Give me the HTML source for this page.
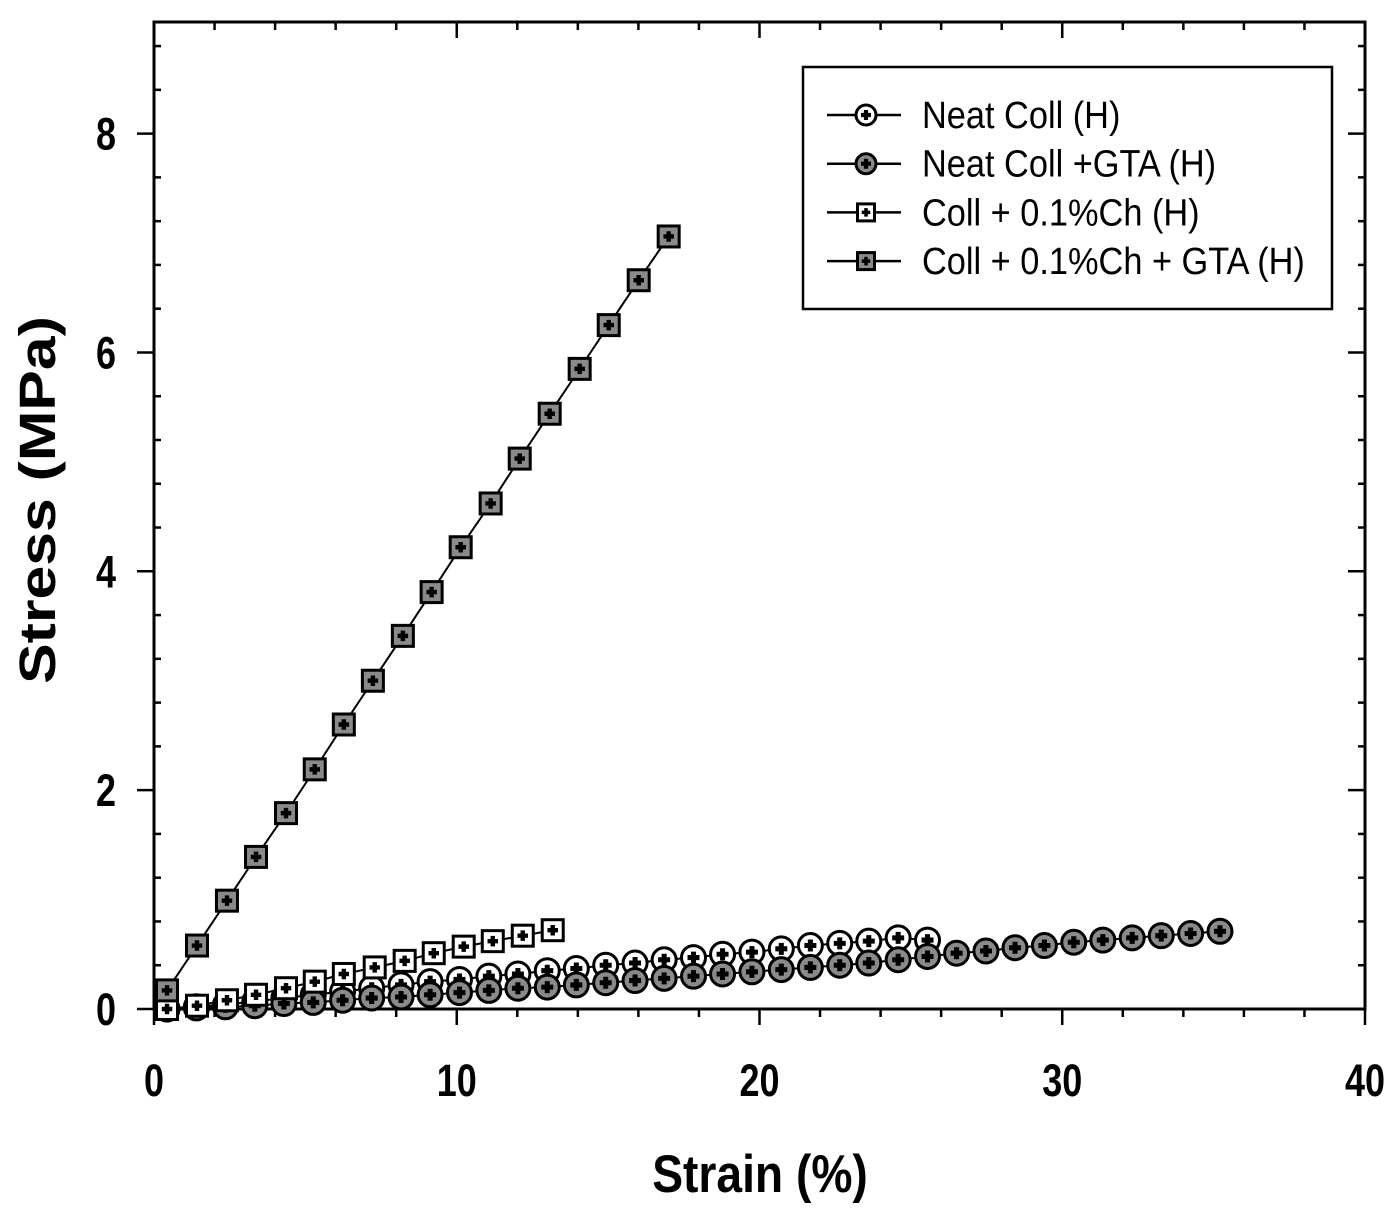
<!DOCTYPE html>
<html><head><meta charset="utf-8"><style>
body{margin:0;background:#fff}
svg{display:block;font-family:"Liberation Sans",Arial,sans-serif}
</style></head><body>
<svg id="chart" width="1397" height="1219" viewBox="0 0 1397 1219"></svg>
<script>
const xTicks=[0,10,20,30,40];
const yTicks=[0,2,4,6,8];
const neatX=[0.43,1.40,2.36,3.33,4.29,5.26,6.23,7.19,8.16,9.12,10.09,11.06,12.02,12.99,13.95,14.92,15.89,16.85,17.82,18.78,19.75,20.72,21.68,22.65,23.61,24.58,25.55];
const neatY=[0,0.02,0.04,0.07,0.10,0.13,0.16,0.19,0.22,0.25,0.27,0.30,0.32,0.35,0.37,0.40,0.42,0.45,0.47,0.50,0.52,0.55,0.58,0.60,0.62,0.65,0.63];
const gtaX=[0.43,1.40,2.36,3.33,4.29,5.26,6.23,7.19,8.16,9.12,10.09,11.06,12.02,12.99,13.95,14.92,15.89,16.85,17.82,18.78,19.75,20.72,21.68,22.65,23.61,24.58,25.55,26.51,27.48,28.44,29.41,30.38,31.34,32.31,33.27,34.24,35.21];
const gtaY=[0,0.01,0.02,0.03,0.05,0.06,0.08,0.10,0.11,0.13,0.15,0.17,0.19,0.20,0.22,0.24,0.26,0.28,0.30,0.32,0.34,0.36,0.38,0.40,0.42,0.45,0.48,0.51,0.53,0.56,0.58,0.61,0.63,0.65,0.67,0.69,0.71];
const chX=[0.43,1.42,2.41,3.37,4.36,5.31,6.27,7.29,8.28,9.24,10.23,11.19,12.18,13.17];
const chY=[0,0.03,0.08,0.13,0.19,0.25,0.32,0.38,0.44,0.51,0.57,0.62,0.67,0.72];
const chGtaX=[0.43,1.42,2.41,3.37,4.36,5.31,6.27,7.23,8.22,9.17,10.13,11.12,12.08,13.07,14.06,15.02,16.01,17.0];
const chGtaY=[0.17,0.58,0.99,1.39,1.79,2.19,2.60,3.00,3.41,3.81,4.22,4.62,5.03,5.44,5.85,6.25,6.66,7.06];
const legendLabels=["Neat Coll (H)","Neat Coll +GTA (H)","Coll + 0.1%Ch (H)","Coll + 0.1%Ch + GTA (H)"];

const L=154,R=1365,T=22,B=1009,XMAX=40,YMAX=9.02;
const sx=v=>L+v/XMAX*(R-L);
const sy=v=>B-v/YMAX*(B-T);
const svg=document.getElementById('chart');
const NS='http://www.w3.org/2000/svg';
function mk(tag,attrs,parent){const e=document.createElementNS(NS,tag);for(const k in attrs)e.setAttribute(k,attrs[k]);(parent||svg).appendChild(e);return e;}

const frame=mk('rect',{x:L,y:T,width:R-L,height:B-T,fill:'none',stroke:'#000','stroke-width':3});



for(let v=0;v<=XMAX;v+=2){
  const x=sx(v),major=v%10===0;
  mk('line',{x1:x,y1:B,x2:x,y2:B+(major?16:8),stroke:'#000','stroke-width':2.5});
  mk('line',{x1:x,y1:T,x2:x,y2:T+(major?16:8),stroke:'#000','stroke-width':2.5});
}
for(let i=0;i<=22;i++){
  const v=i*0.4,y=sy(v),major=(i%5===0);
  mk('line',{x1:L,y1:y,x2:major?L-17:L+7,y2:y,stroke:'#000','stroke-width':2.5});
  mk('line',{x1:R,y1:y,x2:major?R-17:R-7,y2:y,stroke:'#000','stroke-width':2.5});
}
xTicks.forEach(v=>{const t=mk('text',{x:0,y:0,'text-anchor':'middle','font-size':36,'font-weight':'bold',transform:`translate(${sx(v)},1096) scale(1,1.25)`});t.textContent=v;

});
yTicks.forEach(v=>{const t=mk('text',{x:0,y:0,'text-anchor':'end','font-size':36,'font-weight':'bold',transform:`translate(116,${sy(v)+16}) scale(1,1.25)`});t.textContent=v;

});

const xt=mk('text',{x:0,y:0,'text-anchor':'middle','font-size':44,'font-weight':'bold',transform:'translate(760,1192) scale(1.05,1.2)'});xt.textContent='Strain (%)';


const yt=mk('text',{x:0,y:0,'text-anchor':'middle','font-size':44,'font-weight':'bold',transform:'translate(55,500) rotate(-90) scale(1.38,1.15)'});yt.textContent='Stress (MPa)';



function marker(g,x,y,shape,fill,s){
  if(shape==='c') mk('circle',{cx:x,cy:y,r:s,fill:fill,stroke:'#000','stroke-width':3},g);
  else mk('rect',{x:x-s,y:y-s,width:2*s,height:2*s,fill:fill,stroke:'#000','stroke-width':3},g);
  const c=s*0.5;
  mk('path',{d:`M${x-c} ${y}H${x+c}M${x} ${y-c}V${y+c}`,stroke:'#000','stroke-width':s*0.42},g);
}
const series=[
  {name:'series-neat-coll',xs:neatX,ys:neatY,shape:'c',fill:'#fff'},
  {name:'series-neat-coll-gta',xs:gtaX,ys:gtaY,shape:'c',fill:'#8a8a8a'},
  {name:'series-coll-ch',xs:chX,ys:chY,shape:'s',fill:'#fff'},
  {name:'series-coll-ch-gta',xs:chGtaX,ys:chGtaY,shape:'s',fill:'#8a8a8a'}
];
series.forEach(s=>{
  const g=mk('g',{});
  
  
  mk('polyline',{points:s.xs.map((x,i)=>sx(x)+','+sy(s.ys[i])).join(' '),fill:'none',stroke:'#000','stroke-width':2},g);
  s.xs.forEach((x,i)=>marker(g,sx(x),sy(s.ys[i]),s.shape,s.fill,s.shape==='c'?12:10.5));
});

const lg=mk('g',{});


mk('rect',{x:803,y:67,width:529,height:242,fill:'#fff',stroke:'#000','stroke-width':2.5},lg);
legendLabels.forEach((lab,i)=>{
  const y=115+i*48.7;
  const e=mk('g',{},lg);
  
  
  mk('line',{x1:827,y1:y,x2:901,y2:y,stroke:'#000','stroke-width':2.5},e);
  marker(e,866,y,series[i].shape,series[i].fill,series[i].shape==='c'?10:8.5);
  const t=mk('text',{x:0,y:0,'font-size':34,transform:`translate(922,${y+13}) scale(1.01,1.12)`},e);t.textContent=lab;
});
</script>
</body></html>
